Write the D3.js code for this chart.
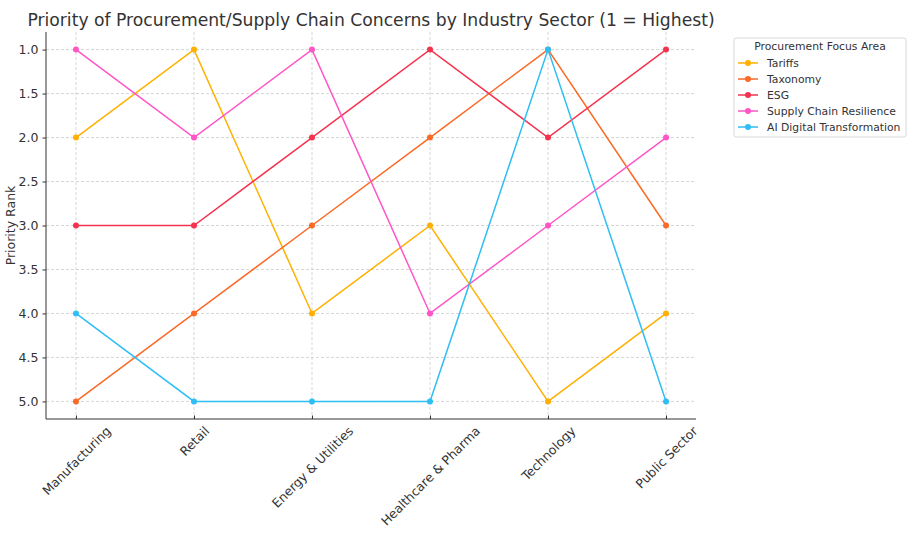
<!DOCTYPE html>
<html lang="en">
<head>
<meta charset="UTF-8">
<title>Priority of Procurement Concerns</title>
<script src="https://d3js.org/d3.v7.min.js"></script>
<style>
  body { margin: 0; background: #fff; }
  text { font-family: "DejaVu Sans", sans-serif; }
</style>
</head>
<body>
<script>
const sectors = ['Manufacturing', 'Retail', 'Energy & Utilities', 'Healthcare & Pharma', 'Technology', 'Public Sector'];
const seriesNames = ['Tariffs', 'Taxonomy', 'ESG', 'Supply Chain Resilience', 'AI Digital Transformation'];
const tariffs = [2, 1, 4, 3, 5, 4];
const taxonomy = [5, 4, 3, 2, 1, 3];
const esg = [3, 3, 2, 1, 2, 1];
const resilience = [1, 2, 1, 4, 3, 2];
const aiDigital = [4, 5, 5, 5, 1, 5];
const yTicks = [1.0, 1.5, 2.0, 2.5, 3.0, 3.5, 4.0, 4.5, 5.0];
const colors = ['#ffb000', '#fb6a26', '#f5334f', '#ff55c6', '#2ebef5'];

const series = [tariffs, taxonomy, esg, resilience, aiDigital].map((v, i) => ({ name: seriesNames[i], values: v, color: colors[i] }));

const W = 913, H = 540;
const margin = { top: 32, right: 217, bottom: 121, left: 46 };
const width = W - margin.left - margin.right;
const height = H - margin.top - margin.bottom;

const svg = d3.select("body").append("svg")
    .attr("width", W)
    .attr("height", H);

const g = svg.append("g")
    .attr("transform", `translate(${margin.left},${margin.top})`);

const x = d3.scalePoint()
    .domain(sectors)
    .range([0, width])
    .padding(0.254);

const y = d3.scaleLinear()
    .domain([0.8, 5.2])
    .range([0, height]);

// grid
g.append("g").selectAll("line")
    .data(yTicks).enter().append("line")
    .attr("x1", 0).attr("x2", width)
    .attr("y1", d => y(d)).attr("y2", d => y(d))
    .attr("stroke", "#cccccc").attr("stroke-width", 0.8).attr("stroke-dasharray", "3,2");

g.append("g").selectAll("line")
    .data(sectors).enter().append("line")
    .attr("x1", d => x(d)).attr("x2", d => x(d))
    .attr("y1", 0).attr("y2", height)
    .attr("stroke", "#cccccc").attr("stroke-width", 0.8).attr("stroke-dasharray", "3,2");

// axes
const yAxis = g.append("g")
    .call(d3.axisLeft(y).tickValues(yTicks).tickFormat(d3.format(".1f")).tickSize(3.5).tickPadding(4));
yAxis.select(".domain").remove();
yAxis.selectAll("text").attr("font-size", 12.5).attr("fill", "#333");
yAxis.selectAll("line").attr("stroke", "#333");

const xAxis = g.append("g")
    .attr("transform", `translate(0,${height})`)
    .call(d3.axisBottom(x).tickSize(-3.5).tickPadding(6));
xAxis.select(".domain").remove();
xAxis.selectAll("line").attr("stroke", "#333");
// rotated labels, bounding box centred under the tick (like ha='center')
xAxis.selectAll("text")
    .attr("font-size", 12.5).attr("fill", "#333")
    .attr("text-anchor", "middle")
    .attr("dy", null)
    .attr("dominant-baseline", "central")
    .each(function() {
        const len = this.getComputedTextLength();
        const half = (len + 13) * Math.SQRT1_2 / 2;
        const cy = 5 + half;
        d3.select(this).attr("y", cy).attr("transform", `rotate(-45,0,${cy})`);
    });

// spines
g.append("line").attr("x1", 0).attr("x2", 0).attr("y1", 0).attr("y2", height)
    .attr("stroke", "#333").attr("stroke-width", 1);
g.append("line").attr("x1", 0).attr("x2", width).attr("y1", height).attr("y2", height)
    .attr("stroke", "#333").attr("stroke-width", 1);

// lines
const line = d3.line()
    .x((d, i) => x(sectors[i]))
    .y(d => y(d));

series.forEach(s => {
    g.append("path")
        .datum(s.values)
        .attr("fill", "none")
        .attr("stroke", s.color)
        .attr("stroke-width", 1.5)
        .attr("d", line);
    g.selectAll(null)
        .data(s.values).enter().append("circle")
        .attr("cx", (d, i) => x(sectors[i]))
        .attr("cy", d => y(d))
        .attr("r", 3)
        .attr("fill", s.color);
});

// title
svg.append("text")
    .attr("x", margin.left + width / 2)
    .attr("y", 26)
    .attr("text-anchor", "middle")
    .attr("font-size", 17.2)
    .attr("fill", "#333")
    .text("Priority of Procurement/Supply Chain Concerns by Industry Sector (1 = Highest)");

// y label
svg.append("text")
    .attr("transform", `translate(15,${margin.top + height / 2}) rotate(-90)`)
    .attr("text-anchor", "middle")
    .attr("font-size", 12.5)
    .attr("fill", "#333")
    .text("Priority Rank");

// legend
const lg = svg.append("g").attr("transform", "translate(734,38)");
lg.append("rect")
    .attr("width", 172).attr("height", 99).attr("rx", 2)
    .attr("fill", "#fff").attr("stroke", "#d8d8d8");
lg.append("text")
    .attr("x", 86).attr("y", 12)
    .attr("text-anchor", "middle")
    .attr("font-size", 10.8).attr("fill", "#333")
    .text("Procurement Focus Area");
series.forEach((s, i) => {
    const yy = 25 + i * 16;
    lg.append("line").attr("x1", 4).attr("x2", 24).attr("y1", yy).attr("y2", yy)
        .attr("stroke", s.color).attr("stroke-width", 1.5);
    lg.append("circle").attr("cx", 14).attr("cy", yy).attr("r", 3).attr("fill", s.color);
    lg.append("text").attr("x", 33).attr("y", yy + 3.5)
        .attr("font-size", 10.8).attr("fill", "#333")
        .text(s.name);
});
</script>
</body>
</html>
